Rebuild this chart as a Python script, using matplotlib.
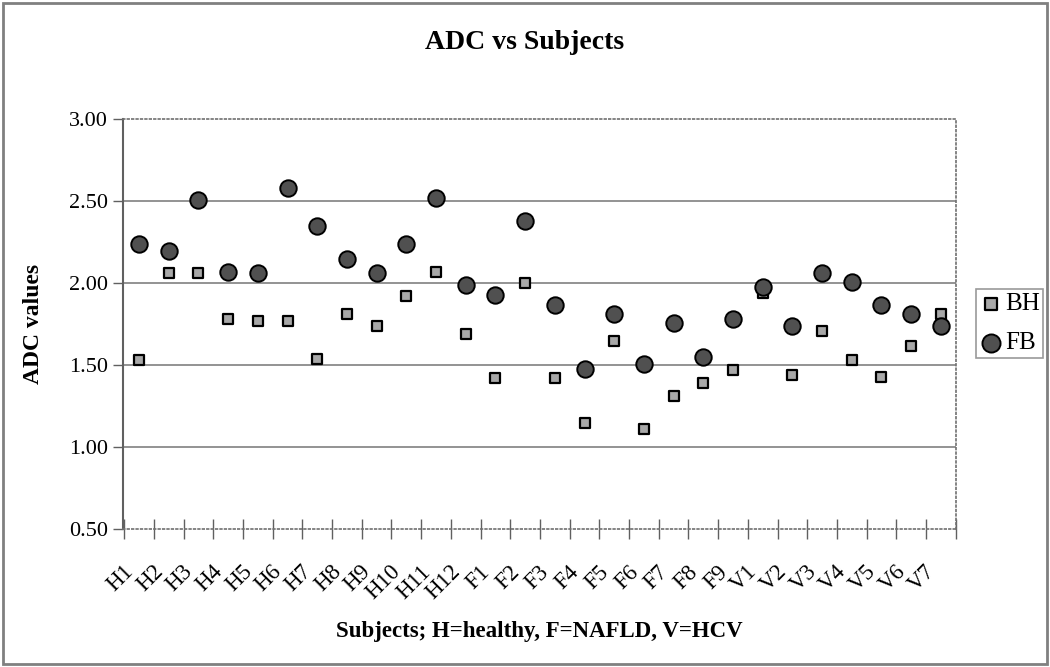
import matplotlib
matplotlib.use("Agg")
import matplotlib.pyplot as plt
import numpy as np
from matplotlib.patches import Rectangle

plt.rcParams['font.family'] = ['Liberation Serif', 'DejaVu Serif']

subjects = ['H1', 'H2', 'H3', 'H4', 'H5', 'H6', 'H7', 'H8', 'H9', 'H10', 'H11', 'H12',
            'F1', 'F2', 'F3', 'F4', 'F5', 'F6', 'F7', 'F8', 'F9',
            'V1', 'V2', 'V3', 'V4', 'V5', 'V6', 'V7']
bh = [1.53, 2.06, 2.06, 1.78, 1.77, 1.77, 1.54, 1.81, 1.74, 1.92, 2.07, 1.69,
      1.42, 2.00, 1.42, 1.15, 1.65, 1.11, 1.31, 1.39, 1.47,
      1.94, 1.44, 1.71, 1.53, 1.43, 1.62, 1.81]
fb = [2.24, 2.20, 2.51, 2.07, 2.06, 2.58, 2.35, 2.15, 2.06, 2.24, 2.52, 1.99,
      1.93, 2.38, 1.87, 1.48, 1.81, 1.51, 1.76, 1.55, 1.78,
      1.98, 1.74, 2.06, 2.01, 1.87, 1.81, 1.74]
yticks = [0.50, 1.00, 1.50, 2.00, 2.50, 3.00]

fig = plt.figure(figsize=(10.5, 6.67), dpi=100)
ax = fig.add_axes([0.1169, 0.2064, 0.7933, 0.6147])

x = np.arange(len(subjects))
ax.scatter(x, bh, marker='s', s=62, facecolor='#a8a8a8', edgecolor='black', linewidth=1.6,
           label='BH', zorder=3)
ax.scatter(x, fb, marker='o', s=140, facecolor='#505050', edgecolor='black', linewidth=1.4,
           label='FB', zorder=4)

ax.set_xlim(-0.5, len(subjects) - 0.5)
ax.set_ylim(0.5, 3.0)
ax.set_yticks(yticks)
ax.set_yticklabels([f'{v:.2f}' for v in yticks], fontsize=16)
for v in yticks[1:-1]:
    ax.axhline(v, color='#808080', linewidth=1.2, zorder=1)

# category boundary tick marks
ax.set_xticks(np.arange(len(subjects) + 1) - 0.5, minor=True)
ax.tick_params(axis='x', which='minor', length=14, width=1, color='#606060', direction='inout')
# labels end a little left of each category centre
ax.set_xticks(x - 0.55)
ax.set_xticklabels(subjects, rotation=45, ha='right', rotation_mode='anchor', fontsize=16.5)
ax.tick_params(axis='x', which='major', length=0, pad=23)
ax.tick_params(axis='y', length=7, width=1, color='#606060', direction='out')

for side in ['top', 'right', 'bottom']:
    ax.spines[side].set_linestyle(':')
    ax.spines[side].set_color('#707070')
    ax.spines[side].set_linewidth(1.2)
ax.spines['left'].set_color('#606060')
ax.spines['left'].set_linewidth(1.5)

ax.set_ylabel('ADC values', fontsize=17, fontweight='bold', labelpad=18)
ax.set_xlabel('Subjects; H=healthy, F=NAFLD, V=HCV', fontsize=16.5, fontweight='bold', labelpad=12)
fig.text(0.5, 0.937, 'ADC vs Subjects', ha='center', va='center', fontsize=20, fontweight='bold')

leg = ax.legend(loc='center left', bbox_to_anchor=(976 / 1050, 1 - 323.5 / 667),
                bbox_transform=fig.transFigure, fontsize=18, frameon=True, fancybox=False,
                edgecolor='#808080', handletextpad=0.1, borderpad=0.15, labelspacing=0.65,
                handlelength=0.9, borderaxespad=0, markerscale=1.1)
leg.get_frame().set_linewidth(1.2)

fig.patches.append(Rectangle((0.003, 0.004), 0.994, 0.992, transform=fig.transFigure,
                             fill=False, edgecolor='#808080', linewidth=2))

fig.savefig('out.png', dpi=100)
